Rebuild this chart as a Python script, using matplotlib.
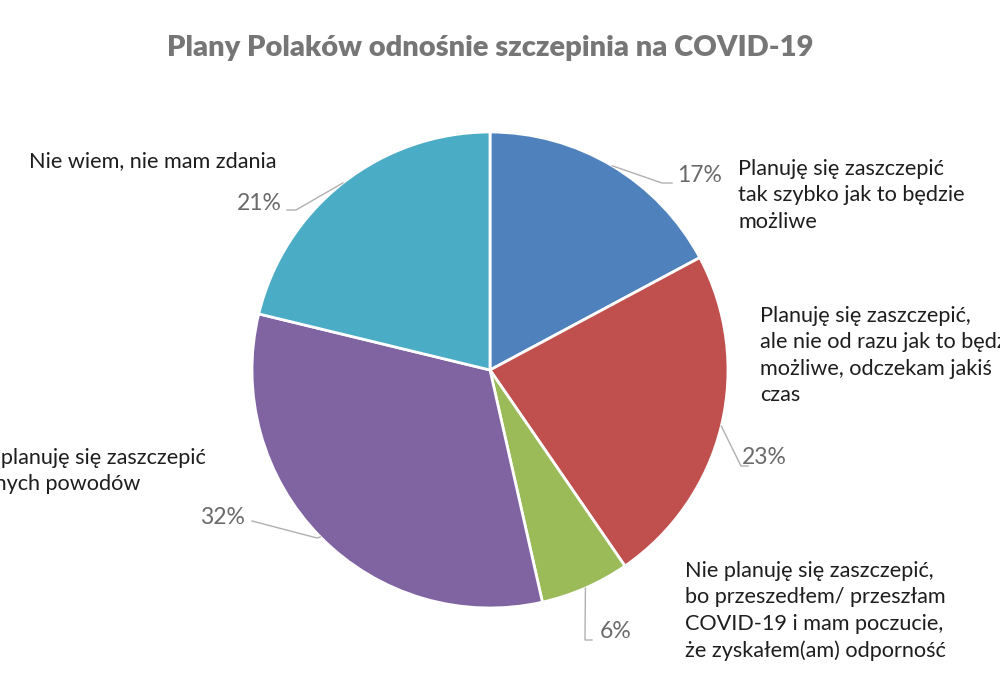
import numpy as np
import matplotlib.pyplot as plt

plt.rcParams['font.family'] = ['Lato', 'DejaVu Sans']

title = "Plany Polaków odnośnie szczepinia na COVID-19"
categories = [
    "Planuję się zaszczepić\ntak szybko jak to będzie\nmożliwe",
    "Planuję się zaszczepić,\nale nie od razu jak to będzie\nmożliwe, odczekam jakiś\nczas",
    "Nie planuję się zaszczepić,\nbo przeszedłem/ przeszłam\nCOVID-19 i mam poczucie,\nże zyskałem(am) odporność",
    "Nie planuję się zaszczepić\nz innych powodów",
    "Nie wiem, nie mam zdania",
]
shares = [17, 23, 6, 32, 21]
colors = ['#4F81BD', '#C0504D', '#9BBB59', '#8064A2', '#4BACC6']

H = 700
def Y(y):
    return H - y

cx, cy, r = 490, 370, 238

fig = plt.figure(figsize=(10, 7), dpi=100)
ax = fig.add_axes([0, 0, 1, 1])
ax.pie(shares, colors=colors, startangle=90, counterclock=False,
       center=(cx, Y(cy)), radius=r,
       wedgeprops=dict(edgecolor='white', linewidth=2))
ax.set_xlim(0, 1000)
ax.set_ylim(0, H)
ax.set_aspect('equal')
ax.axis('off')

ax.text(490, Y(48), title, ha='center', va='center', fontsize=21,
        fontweight='heavy', color='#767676')

# label layout: category text (x, first line y), pct (x, y), elbow, line end
cat_pos = [(738, 171), (760, 318), (685, 573), (-38, 460), (29, 163)]
pct_pos = [(677, 175), (742, 458), (600, 632), (200, 518), (237, 203)]
elbows = [(662, 183), (741, 466), (585, 640), (317, 538), (296, 210)]
ends = [(672, 183), (748, 466), (592, 640), (252, 521), (287, 210)]

cum = np.cumsum([0] + shares[:-1])
tot = sum(shares)
for i, (cat, s) in enumerate(zip(categories, shares)):
    mid = np.deg2rad(90 - (cum[i] + s / 2) / tot * 360)
    ex, ey = cx + r * np.cos(mid), cy - r * np.sin(mid)
    xs = [ex, elbows[i][0], ends[i][0]]
    ys = [Y(ey), Y(elbows[i][1]), Y(ends[i][1])]
    ax.plot(xs, ys, color='#b0b0b0', lw=1, solid_joinstyle='miter')
    ax.text(cat_pos[i][0], Y(cat_pos[i][1] - 12), cat, ha='left', va='top',
            fontsize=15.6, color='#1e1e1e', linespacing=1.4)
    ax.text(pct_pos[i][0], Y(pct_pos[i][1]), f"{s}%", ha='left', va='center',
            fontsize=16.5, color='#6a6a6a')

fig.savefig('out.png', dpi=100)
